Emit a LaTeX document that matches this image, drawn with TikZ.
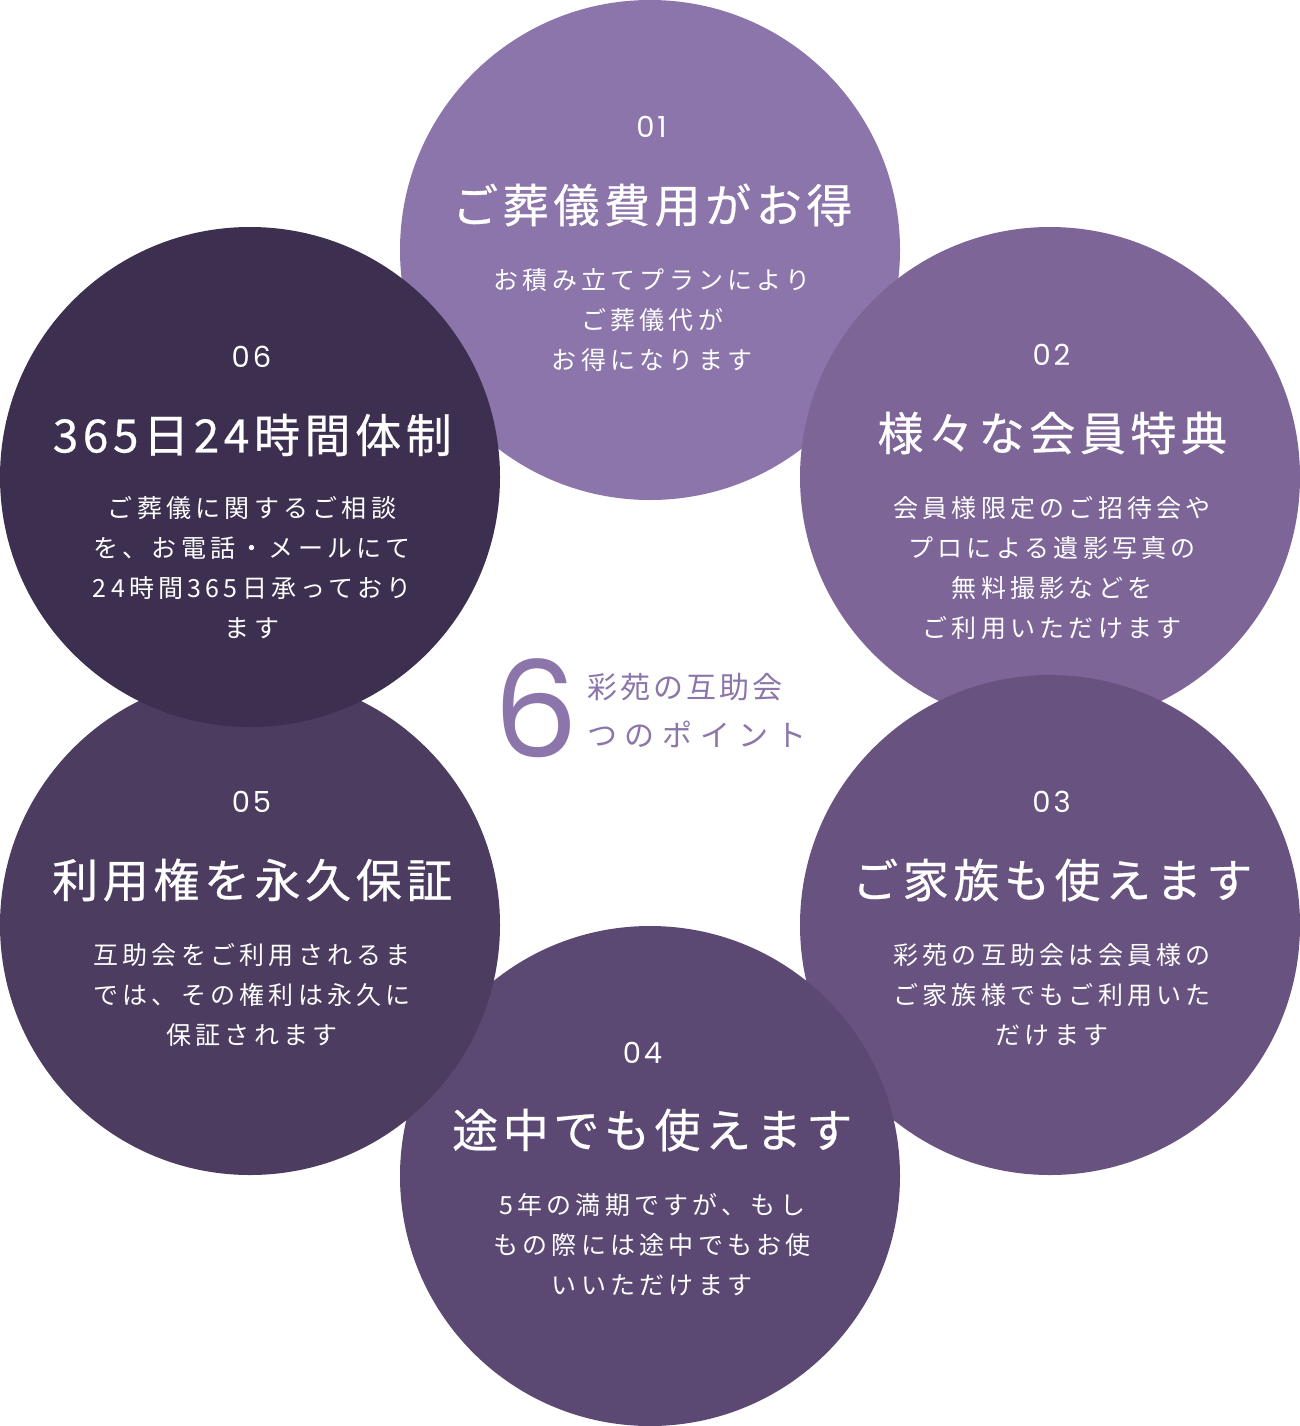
\documentclass[tikz,border=0pt]{standalone}
\usepackage{fontspec}
\setmainfont{Noto Sans CJK JP}
\newfontfamily\ttlfont[FakeBold=0.5,LetterSpace=10]{Noto Sans CJK JP}
\newfontfamily\bdyfont[LetterSpace=17]{Noto Sans CJK JP}
\newfontfamily\nmbfont[LetterSpace=10]{Poppins}
\newfontfamily\sixfont{Poppins}
\newfontfamily\subfontA[LetterSpace=10]{Noto Sans CJK JP}
\newfontfamily\subfontB[LetterSpace=26]{Noto Sans CJK JP}
\definecolor{cA}{HTML}{8B75AA}
\definecolor{cB}{HTML}{7D6598}
\definecolor{cC}{HTML}{68527F}
\definecolor{cD}{HTML}{5B4873}
\definecolor{cE}{HTML}{4B3C60}
\definecolor{cF}{HTML}{3D2F4F}
\begin{document}
\begin{tikzpicture}[x=1pt,y=-1pt,
  circ/.style={circle, minimum size=500pt, inner sep=0pt, draw=none},
  numlbl/.style={text=white, inner sep=0pt, xshift=1.5pt, font=\nmbfont\fontsize{29}{32}\selectfont},
  ttllbl/.style={text=white, inner sep=0pt, xshift=2.3pt, font=\ttlfont\fontsize{46}{50}\selectfont},
  bdylbl/.style={text=white, inner sep=0pt, align=center, xshift=2.1pt, font=\bdyfont\fontsize{25}{40}\selectfont}]
\useasboundingbox (0,0) rectangle (1300,1426);
% circles
\node[circ, fill=cA] (c1) at (650,250) {};
\node[circ, fill=cB] (c2) at (1050,477) {};
\node[circ, fill=cC] (c3) at (1050,925) {};
\node[circ, fill=cD] (c4) at (650,1176) {};
\node[circ, fill=cE] (c5) at (250,925) {};
\node[circ, fill=cF] (c6) at (250,477) {};
% 01
\node[numlbl] (n1) at (650,127) {01};
\node[ttllbl] (t1) at (650,205) {ご葬儀費用がお得};
\node[bdylbl] (b1) at (650,320) {お積み立てプランにより\\ご葬儀代が\\お得になります};
% 02
\node[numlbl] (n2) at (1050,355) {02};
\node[ttllbl] (t2) at (1050,433) {様々な会員特典};
\node[bdylbl] (b2) at (1050,568) {会員様限定のご招待会や\\プロによる遺影写真の\\無料撮影などを\\ご利用いただけます};
% 03
\node[numlbl] (n3) at (1050,802) {03};
\node[ttllbl] (t3) at (1050,880) {ご家族も使えます};
\node[bdylbl] (b3) at (1050,995) {彩苑の互助会は会員様の\\ご家族様でもご利用いた\\だけます};
% 04
\node[numlbl] (n4) at (641,1053) {04};
\node[ttllbl] (t4) at (650,1130) {途中でも使えます};
\node[bdylbl] (b4) at (650,1245) {5年の満期ですが、もし\\もの際には途中でもお使\\いいただけます};
% 05
\node[numlbl] (n5) at (250,802) {05};
\node[ttllbl] (t5) at (250,880) {利用権を永久保証};
\node[bdylbl] (b5) at (250,995) {互助会をご利用されるま\\では、その権利は永久に\\保証されます};
% 06
\node[numlbl] (n6) at (250,357) {06};
\node[ttllbl] (t6) at (250,435) {365日24時間体制};
\node[bdylbl] (b6) at (250,568) {ご葬儀に関するご相談\\を、お電話・メールにて\\24時間365日承っており\\ます};
% centre
\node[text=cA, inner sep=0pt, font=\sixfont\fontsize{134}{140}\selectfont] (six) at (536,708) {6};
\node[text=cA, inner sep=0pt, anchor=west, font=\subfontA\fontsize{30}{32}\selectfont] (sa) at (587,687) {彩苑の互助会};
\node[text=cA, inner sep=0pt, anchor=west, font=\subfontB\fontsize{30}{32}\selectfont] (sb) at (587,734) {つのポイント};
\end{tikzpicture}
\end{document}
